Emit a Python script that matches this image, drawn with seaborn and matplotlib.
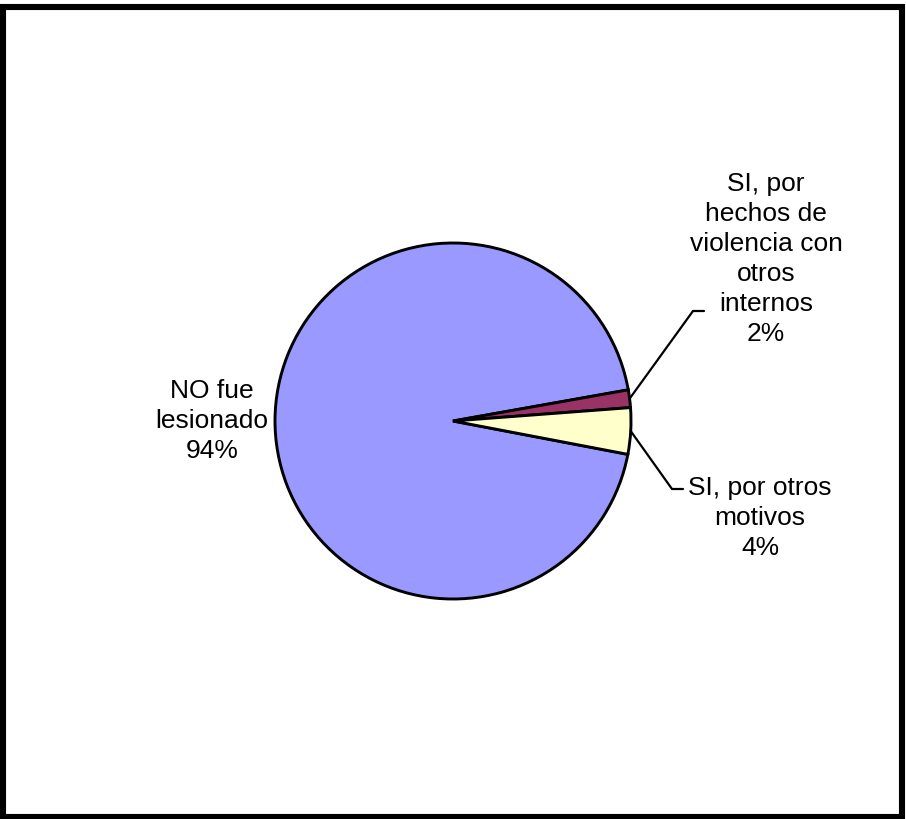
import numpy as np
import matplotlib
matplotlib.use("Agg")
import matplotlib.pyplot as plt
import seaborn as sns
from matplotlib.patches import Rectangle

sns.set_theme(style="white")
plt.rcParams['font.family'] = ['Liberation Sans', 'DejaVu Sans']

categories = ["NO fue\nlesionado", "SI, por\nhechos de\nviolencia con\notros\ninternos", "SI, por otros\nmotivos"]
values = [94.2, 1.6, 4.2]
pct_labels = ["94%", "2%", "4%"]
colors = ["#9999FF", "#993366", "#FFFFCC"]

W, H = 906, 820
fig = plt.figure(figsize=(W / 100, H / 100), dpi=100)
ax = fig.add_axes([0, 0, 1, 1])

cx, cy, r = 453, H - 422, 178
wedges, _ = ax.pie(values, colors=colors, startangle=-10.8, counterclock=False,
                   center=(cx, cy), radius=r, frame=True,
                   wedgeprops=dict(edgecolor='black', linewidth=2.1))
ax.set_xlim(0, W)
ax.set_ylim(0, H)
ax.set_aspect('equal')
ax.axis('off')

fs = 19
ls = 1.31
ax.text(212, H - 421, categories[0] + "\n" + pct_labels[0], ha='center', va='center',
        fontsize=fs, linespacing=ls, color='black')
ax.text(766, H - 259, categories[1] + "\n" + pct_labels[1], ha='center', va='center',
        fontsize=fs, linespacing=ls, color='black')
ax.text(760, H - 518, categories[2] + "\n" + pct_labels[2], ha='center', va='center',
        fontsize=fs, linespacing=ls, color='black')

def edge_point(w):
    a = np.deg2rad((w.theta1 + w.theta2) / 2)
    return cx + r * np.cos(a), cy + r * np.sin(a)

x0, y0 = edge_point(wedges[1])
ax.plot([x0, 693, 704], [y0, H - 312, H - 312], color='black', lw=1.6)
x0, y0 = edge_point(wedges[2])
ax.plot([x0, 672, 683], [y0, H - 490, H - 490], color='black', lw=1.6)

fig.patches.append(Rectangle((3 / W, (H - 818) / H), 899 / W, 810 / H,
                             transform=fig.transFigure, fill=False,
                             edgecolor='black', linewidth=4.4))

fig.savefig("out.png", dpi=100, facecolor='white')
